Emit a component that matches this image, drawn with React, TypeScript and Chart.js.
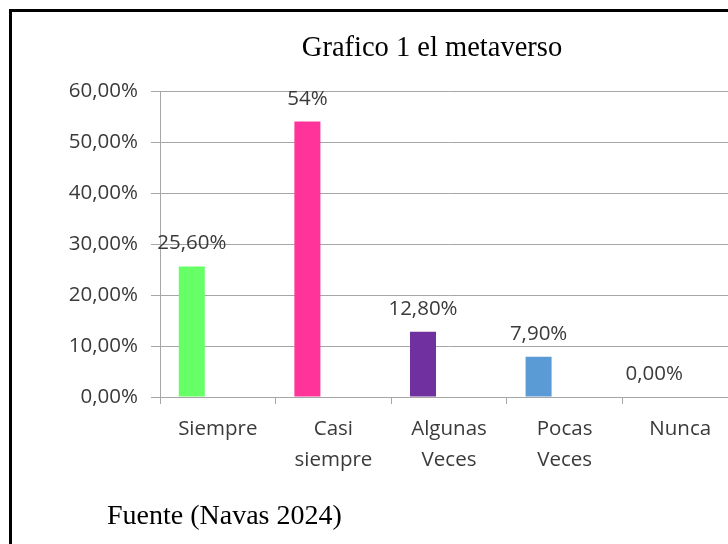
import React, { useEffect, useRef } from "react";
import { Chart, registerables } from "chart.js";

Chart.register(...registerables);

const titleText = "Grafico 1 el metaverso";
const sourceText = "Fuente (Navas 2024)";
const categories: string[][] = [
  ["Siempre"],
  ["Casi", "siempre"],
  ["Algunas", "Veces"],
  ["Pocas", "Veces"],
  ["Nunca"],
];
const values = [25.6, 54, 12.8, 7.9, 0];
const valueLabels = ["25,60%", "54%", "12,80%", "7,90%", "0,00%"];
const barColors = ["#66ff66", "#ff3399", "#7030a0", "#5b9bd5", "#ffc000"];
const emptySeriesA: (number | null)[] = [null, null, null, null, null];
const emptySeriesB: (number | null)[] = [null, null, null, null, null];
const yMin = 0;
const yMax = 60;
const yStep = 10;

const SANS = "'Open Sans', 'Noto Sans', sans-serif";
const SERIF = "'Liberation Serif', 'Times New Roman', serif";

const valueLabelPlugin = {
  id: "valueLabels",
  afterDatasetsDraw(chart: any) {
    const meta = chart.getDatasetMeta(0);
    const ctx = chart.ctx;
    ctx.save();
    ctx.font = `20.5px ${SANS}`;
    ctx.fillStyle = "#3a3a3a";
    ctx.textAlign = "center";
    ctx.textBaseline = "alphabetic";
    meta.data.forEach((bar: any, i: number) => {
      ctx.fillText(valueLabels[i], bar.x, bar.y - 17);
    });
    ctx.restore();
  },
};

export default function App() {
  const canvasRef = useRef<HTMLCanvasElement | null>(null);

  useEffect(() => {
    const canvas = canvasRef.current;
    if (!canvas) return;
    const chart = new Chart(canvas, {
      type: "bar",
      data: {
        labels: categories,
        datasets: [
          { data: values, backgroundColor: barColors, borderWidth: 0 },
          { data: emptySeriesA, backgroundColor: "#c0504d", borderWidth: 0 },
          { data: emptySeriesB, backgroundColor: "#9bbb59", borderWidth: 0 },
        ],
      },
      options: {
        responsive: false,
        animation: false,
        devicePixelRatio: 1,
        layout: { padding: { left: 0, right: 0, top: 0, bottom: 0 } },
        datasets: {
          bar: { categoryPercentage: 0.675, barPercentage: 1 },
        },
        plugins: {
          legend: { display: false },
          tooltip: { enabled: false },
          title: {
            display: true,
            text: titleText,
            color: "#000000",
            font: { family: SERIF, size: 28.5, weight: "normal", lineHeight: 1.2 },
            padding: { top: 19, bottom: 25.8 },
          },
        },
        scales: {
          x: {
            grid: {
              display: true,
              drawOnChartArea: false,
              drawTicks: true,
              tickLength: 7,
              color: "#a6a6a6",
              offset: true,
            },
            border: { display: true, color: "#a6a6a6", width: 1 },
            ticks: {
              color: "#3a3a3a",
              font: { family: SANS, size: 20.5, lineHeight: 1.5 },
              padding: 10,
              maxRotation: 0,
              autoSkip: false,
            },
            afterFit(scale: any) {
              scale.height = 175;
            },
          },
          y: {
            min: yMin,
            max: yMax,
            grid: {
              color: "#a6a6a6",
              tickLength: 9,
              drawTicks: true,
            },
            border: { display: true, color: "#a6a6a6", width: 1 },
            ticks: {
              stepSize: yStep,
              color: "#3a3a3a",
              font: { family: SANS, size: 20.5 },
              padding: 13,
              callback: (v: any) => Number(v).toFixed(2).replace(".", ",") + "%",
            },
            afterFit(scale: any) {
              scale.width = 148;
            },
          },
          ySpace: {
            position: "right",
            display: true,
            grid: { display: false },
            border: { display: false },
            ticks: { display: false },
            afterFit(scale: any) {
              scale.width = 114;
            },
          },
        },
      },
      plugins: [valueLabelPlugin],
    });
    return () => chart.destroy();
  }, []);

  return (
    <div
      style={{
        position: "fixed",
        left: 0,
        top: 0,
        width: 728,
        height: 544,
        overflow: "hidden",
        background: "#ffffff",
      }}
    >
      <div
        style={{
          position: "absolute",
          left: 9,
          top: 9,
          width: 900,
          height: 700,
          borderLeft: "3px solid #000",
          borderTop: "3px solid #000",
        }}
      />
      <div style={{ position: "absolute", left: 12, top: 12, width: 840, height: 560 }}>
        <canvas ref={canvasRef} width={840} height={560} style={{ width: 840, height: 560, display: "block" }} />
      </div>
      <div
        style={{
          position: "absolute",
          left: 107,
          top: 501,
          fontFamily: SERIF,
          fontSize: 28,
          lineHeight: "28px",
          color: "#000",
          whiteSpace: "nowrap",
        }}
      >
        {sourceText}
      </div>
    </div>
  );
}
